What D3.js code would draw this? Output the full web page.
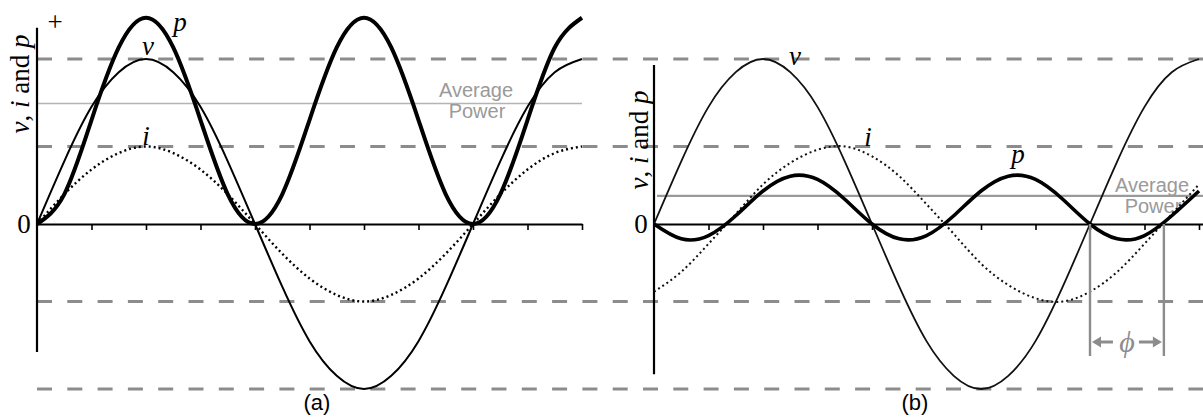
<!DOCTYPE html>
<html><head><meta charset="utf-8">
<script src="https://cdn.jsdelivr.net/npm/d3@7"></script>
<style>html,body{margin:0;padding:0;background:#fff;overflow:hidden}</style>
</head><body>
<svg id="chart" width="1203" height="417"></svg>
<script>
// ---- data (values in units of the voltage amplitude) ----
const phaseDeg = [0,22.5,45,67.5,90,112.5,135,157.5,180,202.5,225,247.5,270,292.5,315,337.5,360,382.5,405,427.5,450];
// (a) current in phase with voltage
const vA = [0,.38,.71,.92,1,.92,.71,.38,0,-.38,-.71,-.92,-1,-.92,-.71,-.38,0,.38,.71,.92,1];
const iA = [0,.18,.33,.43,.47,.43,.33,.18,0,-.18,-.33,-.43,-.47,-.43,-.33,-.18,0,.18,.33,.43,.47];
const pA = [0,.18,.63,1.07,1.25,1.07,.63,.18,0,.18,.63,1.07,1.25,1.07,.63,.18,0,.18,.63,1.07,1.25];
// (b) current lagging the voltage by phi
const vB = [0,.38,.71,.92,1,.92,.71,.38,0,-.38,-.71,-.92,-1,-.92,-.71,-.38,0,.38,.71,.92,1];
const iB = [-.41,-.29,-.12,.06,.24,.37,.45,.47,.41,.29,.12,-.06,-.24,-.37,-.45,-.47,-.41,-.29,-.12,.06,.24];
const pB = [0,-.09,-.07,.05,.2,.29,.27,.15,0,-.09,-.07,.05,.2,.29,.27,.15,0,-.09,-.07,.05,.2];
const refLevels = [1, .47, -.47, -1];
const avgPower = [.73, .17];
const tickDeg = [45,90,135,180,225,270,315,360,405,450];
const phiDeg = 61;
const panelLabels = ["(a)", "(b)"];

// ---- layout ----
const svg = d3.select("#chart");
const y = d3.scaleLinear().domain([-1, 1]).range([389, 59]);
const xA = d3.scaleLinear().domain([0, 450]).range([37, 582]);
const xB = d3.scaleLinear().domain([0, 450]).range([654, 1199]);
const serif = "'Liberation Serif','Times New Roman',serif";
const sans = "'Liberation Sans',Arial,sans-serif";

// dashed reference levels
svg.append("g").selectAll("line").data(refLevels).join("line")
  .attr("x1", 37).attr("x2", 1203)
  .attr("y1", d => y(d)).attr("y2", d => y(d))
  .attr("stroke", "#8c8c8c").attr("stroke-width", 3)
  .attr("stroke-dasharray", "15,15.3");

// average power lines
svg.append("line").attr("x1", xA(0)).attr("x2", xA(450))
  .attr("y1", y(avgPower[0])).attr("y2", y(avgPower[0]))
  .attr("stroke", "#b4b4b4").attr("stroke-width", 1.6);
svg.append("line").attr("x1", xB(0) + 3).attr("x2", 1203)
  .attr("y1", y(avgPower[1])).attr("y2", y(avgPower[1]))
  .attr("stroke", "#9a9a9a").attr("stroke-width", 2.2);

// Average power text
function avgText(cx, by) {
  const g = svg.append("g").attr("fill", "#9a9a9a").attr("font-family", sans)
    .attr("font-size", 20).attr("text-anchor", "middle");
  g.append("text").attr("x", cx).attr("y", by).text("Average");
  g.append("text").attr("x", cx + 1).attr("y", by + 21).text("Power");
}
avgText(476, 97);
avgText(1152, 192);

// axes
function xAxis(scale, extendTo) {
  const s = scale.copy().domain([0, scale.invert(extendTo)]).range([scale(0), extendTo]);
  const g = svg.append("g").attr("transform", `translate(0,${y(0)})`)
    .call(d3.axisBottom(s).tickValues(tickDeg).tickSize(6).tickSizeOuter(0).tickFormat(""));
  g.select(".domain").attr("stroke", "#000").attr("stroke-width", 2);
  g.selectAll(".tick line").attr("stroke", "#000").attr("stroke-width", 1.6);
}
xAxis(xA, 582);
xAxis(xB, 1203);
svg.append("line").attr("x1", xA(0)).attr("x2", xA(0)).attr("y1", y(1.19)).attr("y2", y(-0.776))
  .attr("stroke", "#000").attr("stroke-width", 2.2);
svg.append("line").attr("x1", xB(0)).attr("x2", xB(0)).attr("y1", y(0.964)).attr("y2", y(-0.91))
  .attr("stroke", "#000").attr("stroke-width", 2.2);

// curves
function curve(xs, vals, w, color, dash) {
  const pts = phaseDeg.map((d, k) => [d, vals[k]]);
  const line = d3.line().x(d => xs(d[0])).y(d => y(d[1])).curve(d3.curveNatural);
  const p = svg.append("path").attr("d", line(pts)).attr("fill", "none")
    .attr("stroke", color).attr("stroke-width", w);
  if (dash) p.attr("stroke-dasharray", dash);
}
curve(xA, iA, 2.4, "#000", "2,3");
curve(xA, vA, 2, "#000");
curve(xA, pA, 4, "#000");
curve(xB, iB, 2, "#111", "2,3");
curve(xB, vB, 1.8, "#111");
curve(xB, pB, 3.6, "#000");

// phi marker
const phX1 = xB(360), phX2 = xB(360 + phiDeg), phY = 342;
svg.append("g").selectAll("line").data([phX1, phX2]).join("line")
  .attr("x1", d => d).attr("x2", d => d).attr("y1", y(0)).attr("y2", 356)
  .attr("stroke", "#8c8c8c").attr("stroke-width", 2.4);
const mid = (phX1 + phX2) / 2;
const ag = svg.append("g").attr("stroke", "#8c8c8c").attr("fill", "#8c8c8c");
ag.append("line").attr("x1", phX1 + 8).attr("x2", mid - 14).attr("y1", phY).attr("y2", phY).attr("stroke-width", 3);
ag.append("line").attr("x1", mid + 12).attr("x2", phX2 - 8).attr("y1", phY).attr("y2", phY).attr("stroke-width", 3);
ag.append("path").attr("stroke", "none").attr("d", `M${phX1 + 2},${phY} L${phX1 + 11},${phY - 5.5} L${phX1 + 11},${phY + 5.5}Z`);
ag.append("path").attr("stroke", "none").attr("d", `M${phX2 - 2},${phY} L${phX2 - 11},${phY - 5.5} L${phX2 - 11},${phY + 5.5}Z`);
svg.append("text").attr("x", mid).attr("y", phY + 10).attr("text-anchor", "middle")
  .attr("font-family", serif).attr("font-style", "italic").attr("font-size", 30)
  .attr("fill", "#8c8c8c").text("ϕ");

// serif labels
function lab(x, yy, t, size, italic) {
  svg.append("text").attr("x", x).attr("y", yy).attr("text-anchor", "middle")
    .attr("font-family", serif).attr("font-size", size)
    .attr("font-style", italic ? "italic" : "normal").attr("fill", "#000").text(t);
}
lab(180, 31, "p", 27, true);
lab(148, 55, "v", 27, true);
lab(146, 145, "i", 27, true);
lab(55, 31, "+", 27, false);
lab(24, 233, "0", 27, false);
lab(795, 65, "v", 27, true);
lab(868, 146, "i", 27, true);
lab(1018, 163, "p", 27, true);
lab(641, 233, "0", 27, false);

function yLabel(x, cy) {
  const t = svg.append("text").attr("transform", `translate(${x},${cy}) rotate(-90)`)
    .attr("text-anchor", "middle").attr("font-family", serif).attr("font-size", 27);
  t.append("tspan").attr("font-style", "italic").text("v");
  t.append("tspan").text(", ");
  t.append("tspan").attr("font-style", "italic").text("i");
  t.append("tspan").text(" and ");
  t.append("tspan").attr("font-style", "italic").text("p");
}
yLabel(29, 84);
yLabel(648, 140);

// panel labels
svg.append("g").selectAll("text").data(panelLabels).join("text")
  .attr("x", (d, k) => k === 0 ? 317 : 915).attr("y", 410)
  .attr("text-anchor", "middle").attr("font-family", sans).attr("font-size", 22)
  .attr("fill", "#000").text(d => d);
</script>
</body></html>
